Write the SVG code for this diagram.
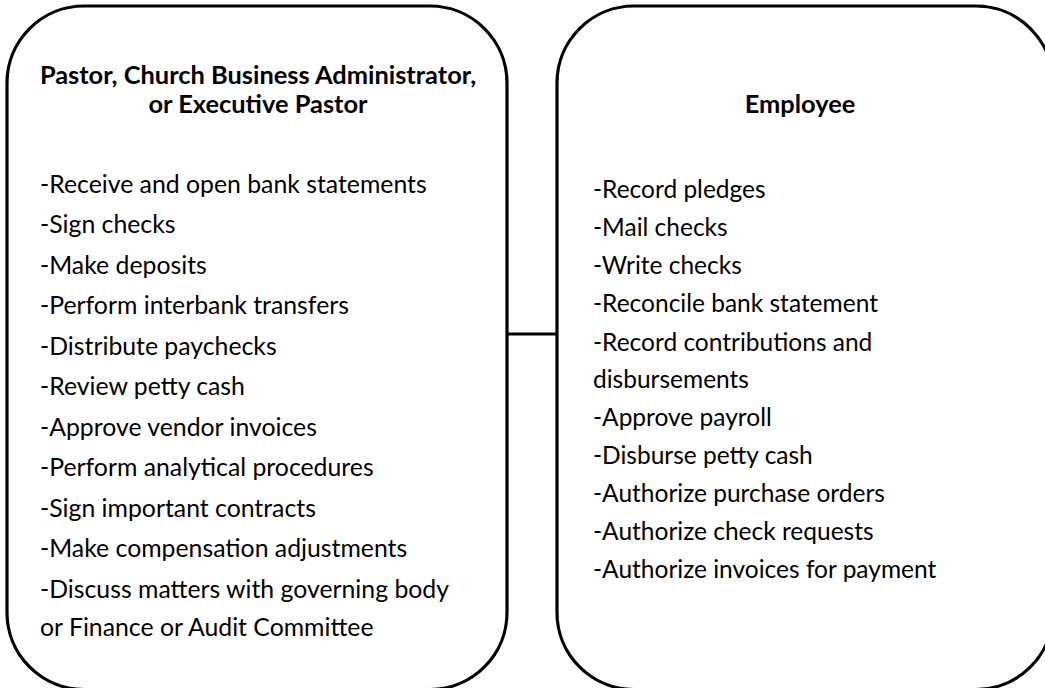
<svg xmlns="http://www.w3.org/2000/svg" width="1045" height="688" viewBox="0 0 1045 688">
  <style>
    .box { fill: #ffffff; stroke: #000000; stroke-width: 3.2; }
    .link { stroke: #000000; stroke-width: 3.2; fill: none; }
    .title { font-family: Lato, "Liberation Sans", sans-serif; font-weight: bold; font-size: 25.4px; fill: #000000; text-anchor: middle; }
    .item { font-family: Lato, "Liberation Sans", sans-serif; font-size: 24.5px; fill: #000000; }
    .item-l { font-size: 24.8px; }
  </style>
  <rect x="0" y="0" width="1045" height="688" fill="#ffffff"/>

  <!-- connector between the two role panels -->
  <g id="connectors">
    <line class="link" x1="507" y1="334" x2="557" y2="334"/>
  </g>

  <!-- left panel: pastor / administrator duties -->
  <g id="node-pastor">
    <rect class="box" x="7" y="6" width="500" height="683.5" rx="77" ry="77"/>
    <text class="title" x="258" y="84">Pastor, Church Business Administrator,</text>
    <text class="title" x="258" y="113">or Executive Pastor</text>
    <text class="item item-l" x="40" y="193">-Receive and open bank statements</text>
    <text class="item item-l" x="40" y="233">-Sign checks</text>
    <text class="item item-l" x="40" y="274">-Make deposits</text>
    <text class="item item-l" x="40" y="314">-Perform interbank transfers</text>
    <text class="item item-l" x="40" y="355">-Distribute paychecks</text>
    <text class="item item-l" x="40" y="395">-Review petty cash</text>
    <text class="item item-l" x="40" y="436">-Approve vendor invoices</text>
    <text class="item item-l" x="40" y="476">-Perform analytical procedures</text>
    <text class="item item-l" x="40" y="517">-Sign important contracts</text>
    <text class="item item-l" x="40" y="557">-Make compensation adjustments</text>
    <text class="item item-l" x="40" y="598">-Discuss matters with governing body</text>
    <text class="item item-l" x="40" y="636">or Finance or Audit Committee</text>
  </g>

  <!-- right panel: employee duties -->
  <g id="node-employee">
    <rect class="box" x="557" y="6" width="496" height="683.5" rx="77" ry="77"/>
    <text class="title" x="800" y="113">Employee</text>
    <text class="item" x="593" y="198">-Record pledges</text>
    <text class="item" x="593" y="236">-Mail checks</text>
    <text class="item" x="593" y="274">-Write checks</text>
    <text class="item" x="593" y="312">-Reconcile bank statement</text>
    <text class="item" x="593" y="351">-Record contributions and</text>
    <text class="item" x="593" y="388">disbursements</text>
    <text class="item" x="593" y="426">-Approve payroll</text>
    <text class="item" x="593" y="464">-Disburse petty cash</text>
    <text class="item" x="593" y="502">-Authorize purchase orders</text>
    <text class="item" x="593" y="540">-Authorize check requests</text>
    <text class="item" x="593" y="578">-Authorize invoices for payment</text>
  </g>
</svg>
